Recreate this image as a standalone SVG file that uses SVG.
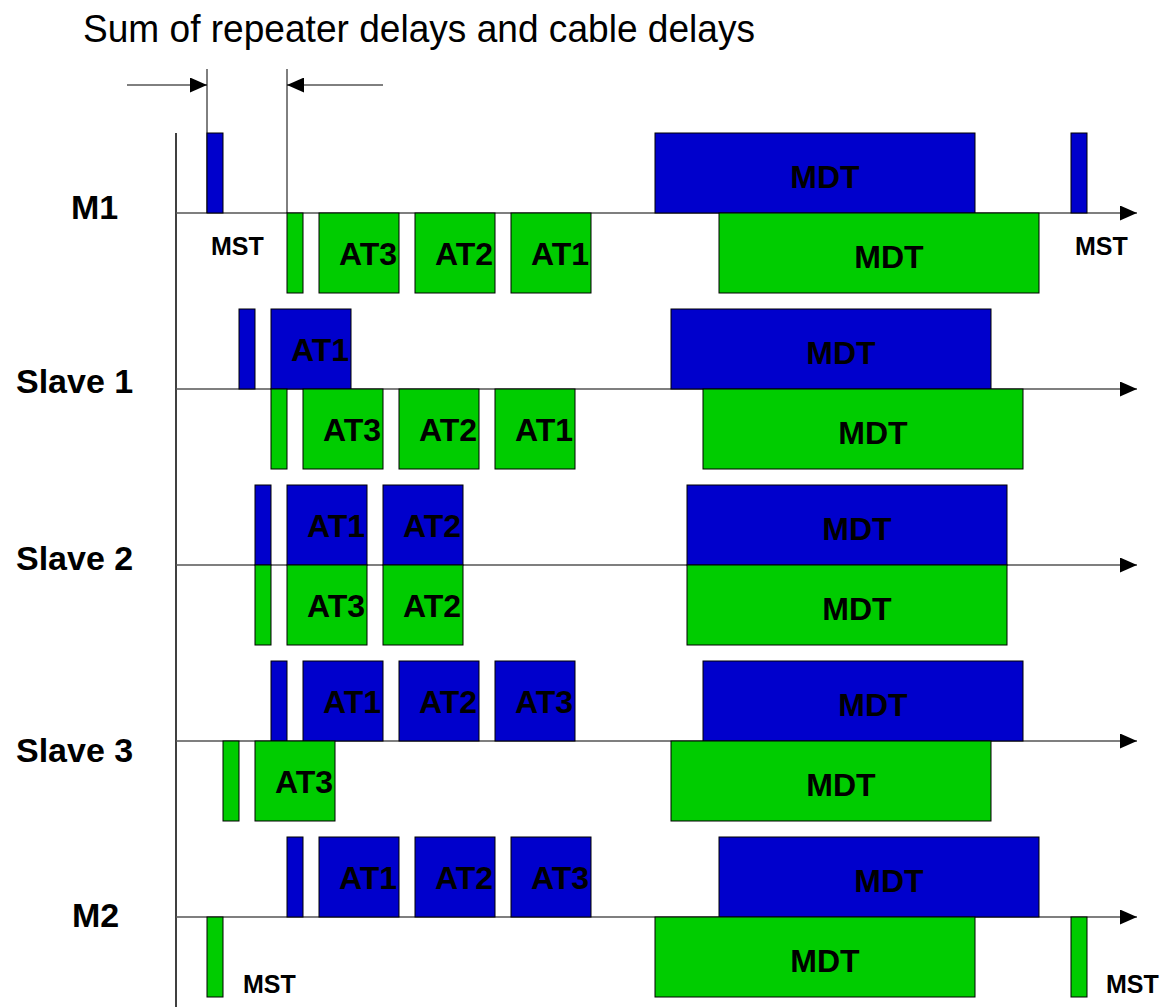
<svg xmlns="http://www.w3.org/2000/svg" width="1173" height="1007" viewBox="0 0 1173 1007">
<style>
.b{fill:#0000CC;stroke:#000;stroke-width:1}
.g{fill:#00CC00;stroke:#000;stroke-width:1}
.t{font-family:"Liberation Sans",Arial,sans-serif;font-weight:bold;fill:#000}
.at{font-size:32px;text-anchor:middle}
.mdt{font-size:32px;text-anchor:middle}
.mst{font-size:25px}
.row{font-size:34px}
.ax{stroke:#555;stroke-width:1.5;fill:none}
.dim{stroke:#000;stroke-width:1;fill:none}
</style>
<defs>
<marker id="ah" markerWidth="17" markerHeight="15" refX="17" refY="7.5" orient="auto" markerUnits="userSpaceOnUse">
<path d="M0,0 L17,7.5 L0,15 Z" fill="#000"/>
</marker>
</defs>
<rect width="1173" height="1007" fill="#fff"/>
<text x="83" y="42" style="font-family:'Liberation Sans',Arial,sans-serif;font-size:38px;fill:#000" textLength="672" lengthAdjust="spacingAndGlyphs">Sum of repeater delays and cable delays</text>
<g id="labels">
<text class="t row" x="71" y="219">M1</text>
<text class="t row" x="16" y="393">Slave 1</text>
<text class="t row" x="16" y="570">Slave 2</text>
<text class="t row" x="16" y="762">Slave 3</text>
<text class="t row" x="72" y="927">M2</text>
</g>
<g id="connectors">
<line x1="176" y1="133" x2="176" y2="1007" stroke="#000" stroke-width="1.5"/>
<line class="ax" x1="176" y1="213" x2="1137" y2="213" marker-end="url(#ah)"/>
<line class="ax" x1="176" y1="389" x2="1137" y2="389" marker-end="url(#ah)"/>
<line class="ax" x1="176" y1="565" x2="1137" y2="565" marker-end="url(#ah)"/>
<line class="ax" x1="176" y1="741" x2="1137" y2="741" marker-end="url(#ah)"/>
<line class="ax" x1="176" y1="917" x2="1137" y2="917" marker-end="url(#ah)"/>
<line class="dim" x1="207" y1="69" x2="207" y2="213"/>
<line class="dim" x1="287" y1="69" x2="287" y2="213"/>
<line class="dim" x1="127" y1="85" x2="207" y2="85" marker-end="url(#ah)"/>
<line class="dim" x1="383" y1="85" x2="287" y2="85" marker-end="url(#ah)"/>
</g>
<g id="m1">
<rect class="b" x="207" y="133" width="16" height="80"/>
<rect class="g" x="287" y="213" width="16" height="80"/>
<rect class="g" x="319" y="213" width="80" height="80"/><text class="t at" x="368" y="265">AT3</text>
<rect class="g" x="415" y="213" width="80" height="80"/><text class="t at" x="464" y="265">AT2</text>
<rect class="g" x="511" y="213" width="80" height="80"/><text class="t at" x="560" y="265">AT1</text>
<rect class="b" x="655" y="133" width="320" height="80"/><text class="t mdt" x="825" y="188">MDT</text>
<rect class="g" x="719" y="213" width="320" height="80"/><text class="t mdt" x="889" y="268">MDT</text>
<rect class="b" x="1071" y="133" width="16" height="80"/>
<text class="t mst" x="211" y="255">MST</text>
<text class="t mst" x="1075" y="255">MST</text>
</g>
<g id="slave1">
<rect class="b" x="239" y="309" width="16" height="80"/>
<rect class="b" x="271" y="309" width="80" height="80"/><text class="t at" x="320" y="361">AT1</text>
<rect class="g" x="271" y="389" width="16" height="80"/>
<rect class="g" x="303" y="389" width="80" height="80"/><text class="t at" x="352" y="441">AT3</text>
<rect class="g" x="399" y="389" width="80" height="80"/><text class="t at" x="448" y="441">AT2</text>
<rect class="g" x="495" y="389" width="80" height="80"/><text class="t at" x="544" y="441">AT1</text>
<rect class="b" x="671" y="309" width="320" height="80"/><text class="t mdt" x="841" y="364">MDT</text>
<rect class="g" x="703" y="389" width="320" height="80"/><text class="t mdt" x="873" y="444">MDT</text>
</g>
<g id="slave2">
<rect class="b" x="255" y="485" width="16" height="80"/>
<rect class="b" x="287" y="485" width="80" height="80"/><text class="t at" x="336" y="537">AT1</text>
<rect class="b" x="383" y="485" width="80" height="80"/><text class="t at" x="432" y="537">AT2</text>
<rect class="g" x="255" y="565" width="16" height="80"/>
<rect class="g" x="287" y="565" width="80" height="80"/><text class="t at" x="336" y="617">AT3</text>
<rect class="g" x="383" y="565" width="80" height="80"/><text class="t at" x="432" y="617">AT2</text>
<rect class="b" x="687" y="485" width="320" height="80"/><text class="t mdt" x="857" y="540">MDT</text>
<rect class="g" x="687" y="565" width="320" height="80"/><text class="t mdt" x="857" y="620">MDT</text>
</g>
<g id="slave3">
<rect class="b" x="271" y="661" width="16" height="80"/>
<rect class="b" x="303" y="661" width="80" height="80"/><text class="t at" x="352" y="713">AT1</text>
<rect class="b" x="399" y="661" width="80" height="80"/><text class="t at" x="448" y="713">AT2</text>
<rect class="b" x="495" y="661" width="80" height="80"/><text class="t at" x="544" y="713">AT3</text>
<rect class="g" x="223" y="741" width="16" height="80"/>
<rect class="g" x="255" y="741" width="80" height="80"/><text class="t at" x="304" y="793">AT3</text>
<rect class="b" x="703" y="661" width="320" height="80"/><text class="t mdt" x="873" y="716">MDT</text>
<rect class="g" x="671" y="741" width="320" height="80"/><text class="t mdt" x="841" y="796">MDT</text>
</g>
<g id="m2">
<rect class="b" x="287" y="837" width="16" height="80"/>
<rect class="b" x="319" y="837" width="80" height="80"/><text class="t at" x="368" y="889">AT1</text>
<rect class="b" x="415" y="837" width="80" height="80"/><text class="t at" x="464" y="889">AT2</text>
<rect class="b" x="511" y="837" width="80" height="80"/><text class="t at" x="560" y="889">AT3</text>
<rect class="b" x="719" y="837" width="320" height="80"/><text class="t mdt" x="889" y="892">MDT</text>
<rect class="g" x="207" y="917" width="16" height="80"/>
<rect class="g" x="655" y="917" width="320" height="80"/><text class="t mdt" x="825" y="972">MDT</text>
<rect class="g" x="1071" y="917" width="16" height="80"/>
<text class="t mst" x="243" y="993">MST</text>
<text class="t mst" x="1106" y="993">MST</text>
</g>
</svg>
